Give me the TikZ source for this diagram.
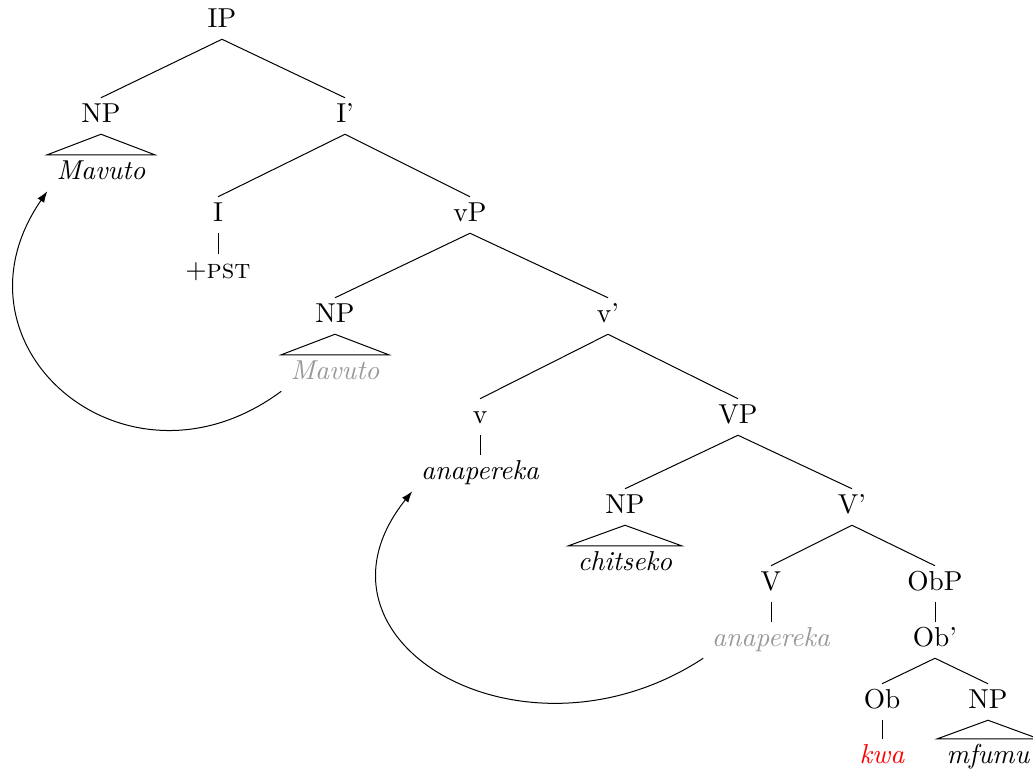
\documentclass[11pt,tikz,border=0pt]{standalone}
\usetikzlibrary{arrows.meta}
\begin{document}
\begin{tikzpicture}[
        x=0.4pt, y=-0.4pt,
        every node/.style={anchor=base, inner xsep=3.33pt, inner ysep=2pt,
            text height=7.5pt, text depth=2.7pt},
        word/.style={font=\itshape},
        roofword/.style={word, inner xsep=3.5pt},
        trace/.style={text=black!40},
        move/.style={-{Latex[length=4.5pt,width=3.2pt]}, thin}
    ]
        \useasboundingbox (0,0) rectangle (1033,774);

        % IP und I'
        \node (ip) at (222,27) {IP};
        \node (np1) at (101,122) {NP};
        \node[roofword] (mav1) at (101,179) {Mavuto};
        \node (ibar) at (345,122) {I'};
        \node (i) at (218,221) {I};
        \node (pst) at (218,278) {+\textsc{pst}};

        % vP
        \node (vp) at (470,221) {vP};
        \node (np2) at (335,322) {NP};
        \node[roofword, trace] (mav2) at (335,379) {Mavuto};
        \node (vbar) at (608,322) {v'};
        \node (v) at (480,423) {v};
        \node[word] (ana1) at (480,479) {anapereka};

        % VP
        \node (bigvp) at (738,423) {VP};
        \node (np3) at (625,513) {NP};
        \node[roofword] (chi) at (625,570) {chitseko};
        \node (bigvbar) at (852,513) {V'};
        \node (bigv) at (771,590) {V};
        \node[word, trace] (ana2) at (771,646) {anapereka};

        % ObP
        \node (obp) at (935,590) {ObP};
        \node (obbar) at (935,646) {Ob'};
        \node (ob) at (882,708) {Ob};
        \node[word, text=red] (kwa) at (882,763) {kwa};
        \node (np4) at (988,708) {NP};
        \node[roofword] (mfu) at (988,763) {mfumu};

        % Kanten
        \draw (ip.south) -- (np1.north);
        \draw (ip.south) -- (ibar.north);
        \draw (ibar.south) -- (i.north);
        \draw (ibar.south) -- (vp.north);
        \draw (i.south) -- (pst.north);
        \draw (vp.south) -- (np2.north);
        \draw (vp.south) -- (vbar.north);
        \draw (vbar.south) -- (v.north);
        \draw (vbar.south) -- (bigvp.north);
        \draw (v.south) -- (ana1.north);
        \draw (bigvp.south) -- (np3.north);
        \draw (bigvp.south) -- (bigvbar.north);
        \draw (bigvbar.south) -- (bigv.north);
        \draw (bigvbar.south) -- (obp.north);
        \draw (bigv.south) -- (ana2.north);
        \draw (obp.south) -- (obbar.north);
        \draw (obbar.south) -- (ob.north);
        \draw (obbar.south) -- (np4.north);
        \draw (ob.south) -- (kwa.north);

        % Dreiecke
        \draw (np1.south) -- (mav1.north west) -- (mav1.north east) -- cycle;
        \draw (np2.south) -- (mav2.north west) -- (mav2.north east) -- cycle;
        \draw (np3.south) -- (chi.north west) -- (chi.north east) -- cycle;
        \draw (np4.south) -- (mfu.north west) -- (mfu.north east) -- cycle;

        % Bewegung
        \draw[move] (mav2.south west) .. controls +(-155,115) and +(-107,155) .. (mav1.south west);
        \draw[move] (ana2.south west) .. controls +(-180,118) and +(-120,150) .. (ana1.south west);

    \end{tikzpicture}
\end{document}
